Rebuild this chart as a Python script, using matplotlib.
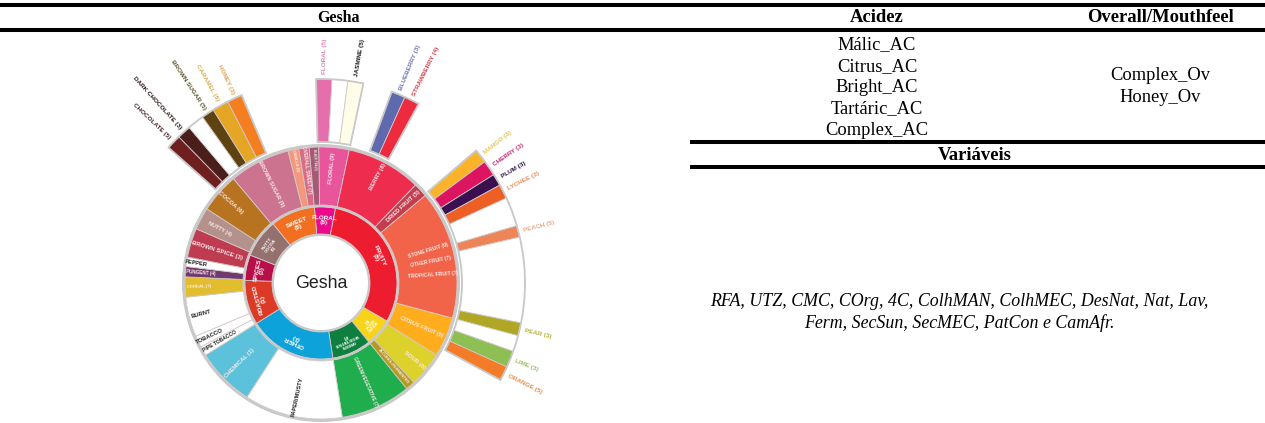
import numpy as np
import matplotlib
matplotlib.use("Agg")
import matplotlib.pyplot as plt

# inner ring, clockwise, spans in degrees
ring1_start = -5
ring1_labels = ["FLORAL\n(8)", "FRUITY\n(8)", "SOUR/\nFERM.\n(6)", "GREEN\nVEGETATIVE\n(2)", "OTHER\n(1)",
                "ROASTED\n(1)", "SPICES\n(3)", "NUTTY\nCOCOA\n(5)", "SWEET\n(8)"]
ring1_spans = [16, 109, 21, 30, 67, 34, 19.5, 29.5, 34]
ring1_colors = ["#EA0A8C", "#ED1C2E", "#F7D417", "#0F7F3F", "#0DA2D9", "#DB3A26", "#B80F48", "#94706F", "#F26F21"]

# middle ring
ring2_start = -1
ring2_labels = ["FLORAL (9)", "BERRY (8)", "DRIED FRUIT (5)", "", "CITRUS FRUIT (8)", "SOUR (6)",
                "ALCOHOL/FERMENTED", "GREEN/VEGETATIVE (7)", "PAPER/MUSTY", "CHEMICAL (1)", "PIPE TOBACCO",
                "TOBACCO", "BURNT", "CEREAL (7)", "PUNGENT (4)", "PEPPER", "BROWN SPICE (3)", "NUTTY (4)",
                "COCOA (6)", "BROWN SUGAR (9)", "VANILLA (5)", "OVERALL SWEET (7)", "BLACK TEA (5)"]
ring2_spans = [13, 32, 6, 55, 17, 15, 4, 30, 42, 25, 4, 5, 17, 8.6, 4.4, 4, 12.5, 9.5, 17, 26, 4.6, 4.4, 4]
ring2_colors = ["#E9559B", "#EE2C4E", "#C33D4E", "#F2644A", "#FFAD1D", "#DDD12C", "#B59A1E", "#20AD4E", "#FFFFFF",
                "#5CC2DC", "#FFFFFF", "#FFFFFF", "#FFFFFF", "#E2BD2E", "#6F3A6D", "#FFFFFF", "#BF3B50", "#B4918A",
                "#B7731F", "#CC7390", "#F3987B", "#D76C86", "#A35A77"]
fruit_labels = ["STONE FRUIT (9)", "OTHER FRUIT (7)", "TROPICAL FRUIT (7)"]

# label style for the middle ring, one per slice
ring2_text_r = [115, 120, 113, 107, 110, 121, 110, 108, 116, 114, 117, 123, 124, 122, 121, 126, 109, 115, 121, 111, 125, 114, 124]
ring2_text_size = [4.1, 4.3, 4.05, 4, 3.95, 4.2, 2.85, 3.4, 4.05, 4.2, 3.6, 4.2, 4.2, 3.2, 3.3, 4.1, 4.4, 3.9, 4.4, 4,
                   2.8, 3.4, 2.1]

# outer ring, four separate groups
choc_start = -48.4
choc_labels = ["CHOCOLATE (5)", "DARK CHOCOLATE (3)", "", "BROWN SUGAR (5)", "CARAMEL (5)", "HONEY (3)"]
choc_spans = [4.2, 3.9, 4.8, 3.6, 4.7, 4.3]
choc_colors = ["#6E1F1F", "#4A1E1A", "#FFFFFF", "#5E4212", "#E4A624", "#F57F20"]
choc_text = ["#4A2A2A", "#2E1A18", "", "#5E5A30", "#D8AE50", "#E0A050"]

flower_start = -1.4
flower_labels = ["FLORAL (5)", "", "JASMINE (5)"]
flower_spans = [4.5, 4.5, 4.4]
flower_colors = ["#E56FAC", "#FFFFFF", "#FFFCE8"]
flower_text = ["#D88AB8", "", "#1A1A1A"]

berry_start = 20.3
berry_labels = ["BLUEBERRY (3)", "STRAWBERRY (4)"]
berry_spans = [4, 4.3]
berry_colors = ["#5E69AE", "#EE2A3E"]
berry_text = ["#6F78B0", "#D8404F"]

fruit_start = 49.5
fruit_names = ["MANGO (3)", "CHERRY (3)", "PLUM (3)", "LYCHEE (3)", "", "PEACH (5)", "", "PEAR (3)", "", "LIME (3)", "ORANGE (5)"]
fruit_spans = [4, 4.4, 3.4, 4.1, 8.3, 3.3, 24.3, 3.7, 4.6, 4.7, 4.1]
fruit_colors = ["#FBB429", "#DD1460", "#3A1050", "#EE5F25", "#FFFFFF", "#EE8558", "#FFFFFF", "#B0A824", "#FFFFFF",
                "#8DBF52", "#F47B28"]
fruit_text = ["#E8C050", "#C03070", "#2A1040", "#E09060", "", "#E8A888", "", "#B8B040", "", "#98C060", "#E09050"]

# table text
headers = ["Gesha", "Acidez", "Overall/Mouthfeel"]
header_sizes = [11.5, 13.4, 13.4]
acidez = ["Málic_AC", "Citrus_AC", "Bright_AC", "Tartáric_AC", "Complex_AC"]
overall = ["Complex_Ov", "Honey_Ov"]
variaveis = ["RFA, UTZ, CMC, COrg, 4C, ColhMAN, ColhMEC, DesNat, Nat, Lav,",
             "Ferm, SecSun, SecMEC, PatCon e CamAfr."]

EDGE = "#D2C8C8"
GREY = "#C9C9C9"


def radial_text(ax, theta, r, s, color, size=3.8, anchor="center"):
    th = theta % 360
    if th <= 180:
        rot = 90 - th
        ha = "left" if anchor == "out" else "center"
    else:
        rot = 270 - th
        ha = "right" if anchor == "out" else "center"
    ax.text(np.radians(th), r, s, color=color, fontsize=size, fontweight="bold", rotation=rot,
            rotation_mode="anchor", ha=ha, va="center", family="Liberation Sans")


def draw_ring(ax, start, spans, colors, bottom, top):
    edges = start + np.cumsum([0] + list(spans))
    mids = (edges[:-1] + edges[1:]) / 2
    ax.bar(np.radians(mids), top - bottom, width=np.radians(spans), bottom=bottom, color=colors,
           edgecolor=EDGE, linewidth=0.6, align="center")
    return mids


def draw_group(ax, start, spans, colors, labels, text_colors):
    mids = draw_ring(ax, start, spans, colors, 141, 204)
    total = sum(spans)
    ax.bar(np.radians(start + total / 2), 63, width=np.radians(total), bottom=141, color="none",
           edgecolor=GREY, linewidth=1.3)
    for mid, lab, col in zip(mids, labels, text_colors):
        if lab:
            radial_text(ax, mid, 209, lab, col, size=4.6, anchor="out")


fig = plt.figure(figsize=(12.65, 4.23), dpi=100)

# table part, in pixel coordinates
tab = fig.add_axes([0, 0, 1, 1])
tab.set_xlim(0, 1265)
tab.set_ylim(423, 0)
tab.axis("off")
tab.hlines([5.2, 30], 0, 1265, color="black", linewidth=2.9)
tab.hlines([142, 167], 690, 1265, color="black", linewidth=2.9)
serif = "Liberation Serif"
for x, s, size in zip([338, 877, 1160.5], headers, header_sizes):
    tab.text(x, 18, s, family=serif, fontweight="bold", fontsize=size, ha="center", va="center")
for i, s in enumerate(acidez):
    tab.text(877, 45 + i * 21.3, s, family=serif, fontsize=13.3, ha="center", va="center")
for i, s in enumerate(overall):
    tab.text(1160, 76 + i * 22, s, family=serif, fontsize=13.3, ha="center", va="center")
tab.text(975, 155, "Variáveis", family=serif, fontweight="bold", fontsize=13.4, ha="center", va="center")
for i, s in enumerate(variaveis):
    tab.text(959.5, 301 + i * 22, s, family=serif, style="italic", fontsize=12.9, ha="center", va="center")

# sunburst, centre at pixel (321, 283)
ax = fig.add_axes([(321 - 210) / 1265, (423 - 283 - 210) / 423, 420 / 1265, 420 / 423], projection="polar")
ax.set_theta_zero_location("N")
ax.set_theta_direction(-1)
ax.set_ylim(0, 210)
ax.axis("off")
ax.patch.set_alpha(0)

ax.bar(0, 2, width=2 * np.pi, bottom=47, color=GREY, linewidth=0)
ax.bar(0, 3, width=2 * np.pi, bottom=136, color=GREY, linewidth=0)
mids = draw_ring(ax, ring1_start, ring1_spans, ring1_colors, 49, 76)
for mid, lab in zip(mids, ring1_labels):
    size = 3.2 if lab.count("\n") == 2 else 4.6
    ax.text(np.radians(mid), 62.5, lab, color="white", fontsize=size, fontweight="bold", rotation=-mid,
            rotation_mode="anchor", ha="center", va="center", linespacing=0.95, family="Liberation Sans")
ax.bar(0, 2, width=2 * np.pi, bottom=76, color=GREY, linewidth=0)

mids = draw_ring(ax, ring2_start, ring2_spans, ring2_colors, 78, 136)
for mid, lab, col, r, size in zip(mids, ring2_labels, ring2_colors, ring2_text_r, ring2_text_size):
    if lab:
        radial_text(ax, mid, r, lab, "#222222" if col == "#FFFFFF" else "#FBE9E9", size=size)
for lab, offset, size in zip(fruit_labels, (-4.5, 1.5, 8.5), (3.7, 3.6, 3.7)):
    radial_text(ax, mids[3] + offset, 112, lab, "#FBE9E9", size=size)

draw_group(ax, choc_start, choc_spans, choc_colors, choc_labels, choc_text)
draw_group(ax, flower_start, flower_spans, flower_colors, flower_labels, flower_text)
draw_group(ax, berry_start, berry_spans, berry_colors, berry_labels, berry_text)
draw_group(ax, fruit_start, fruit_spans, fruit_colors, fruit_names, fruit_text)

ax.text(0, 0, "Gesha", fontsize=12.8, color="#222222", ha="center", va="center", family="Liberation Sans")

fig.savefig("out.png", dpi=100)
